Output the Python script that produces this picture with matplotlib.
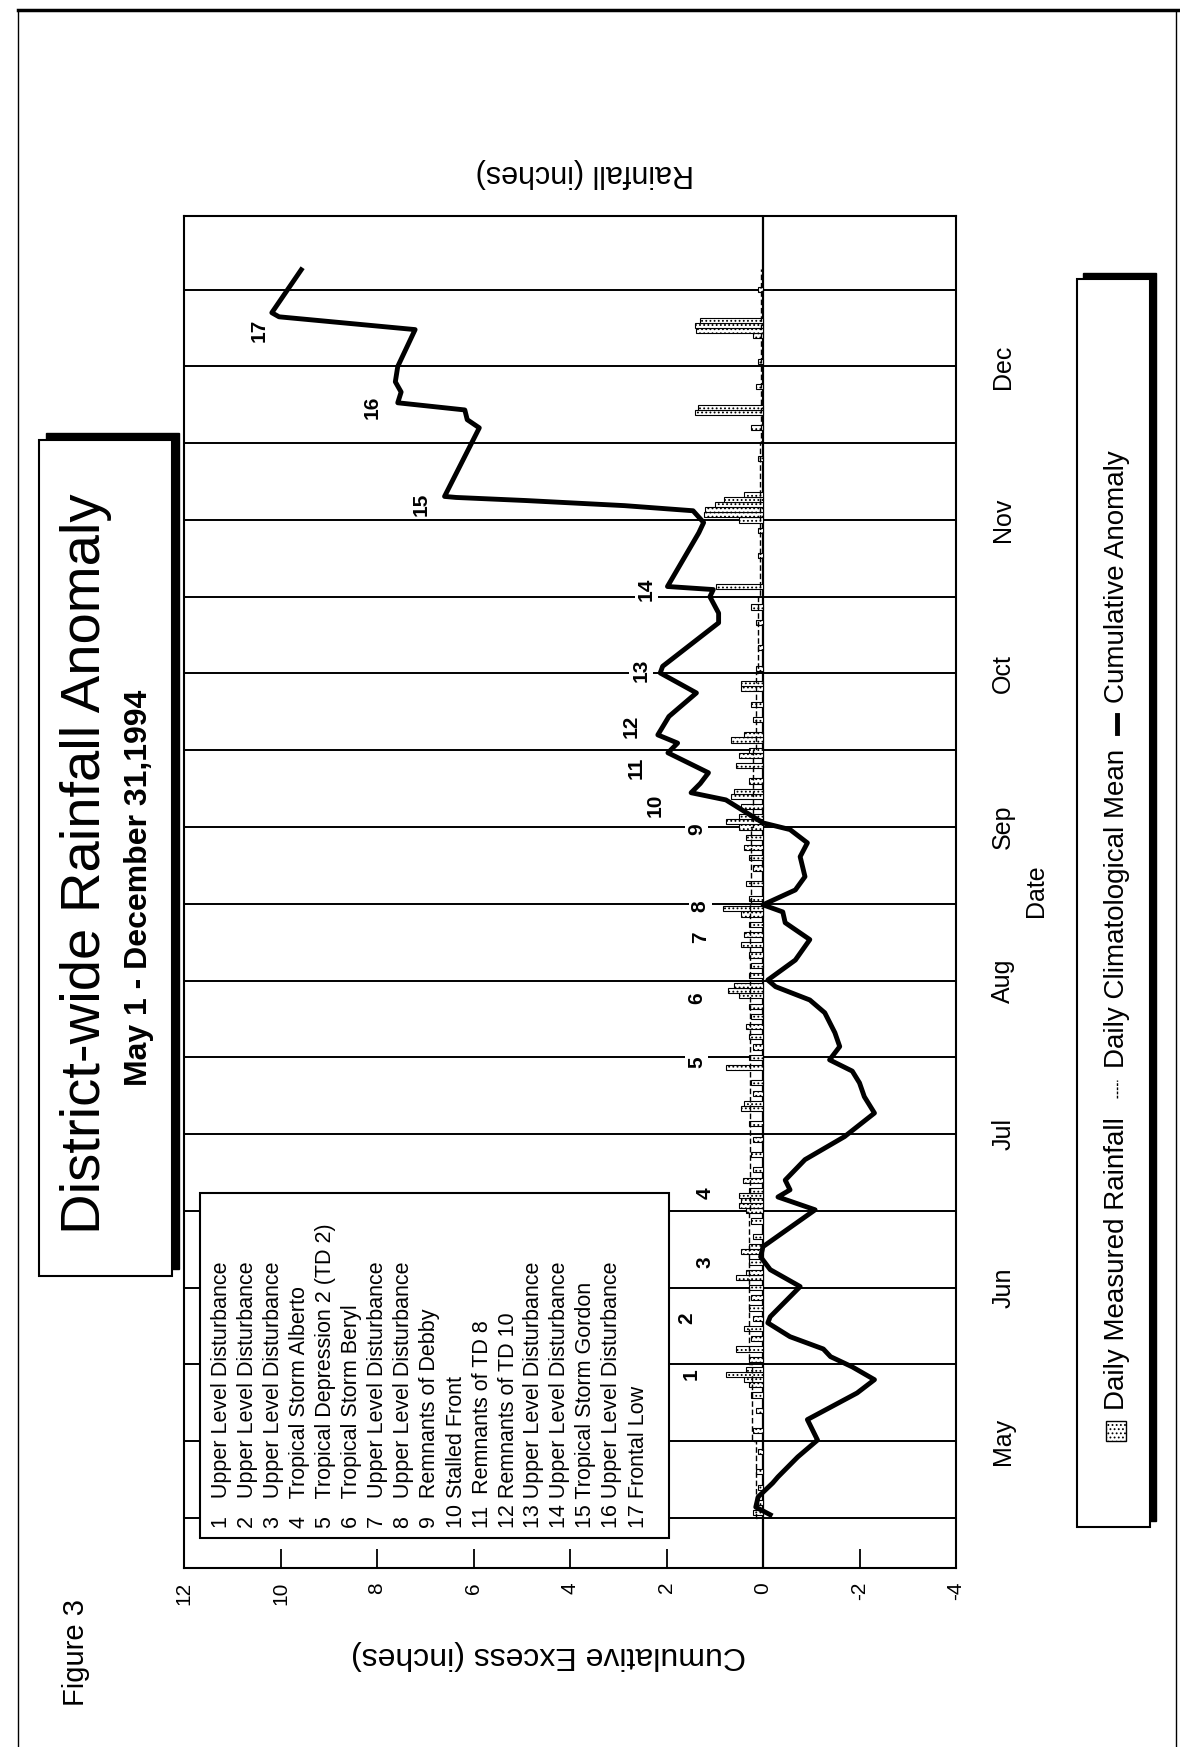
import matplotlib
matplotlib.use("Agg")
import matplotlib.pyplot as plt
from matplotlib.patches import Rectangle
from matplotlib.lines import Line2D

plt.rcParams['font.family'] = ['Liberation Sans', 'DejaVu Sans']
plt.rcParams['hatch.linewidth'] = 0.8

# days counted from May 1, 1994
anom_day = [0.6, 2.1, 4.1, 6.8, 8, 11.9, 15.2, 19.2, 24.4, 27, 29.5, 31.5, 33, 35.4, 38.1, 39.3,
            45.2, 48.5, 51, 53, 60.2, 62.7, 64.1, 66, 70, 74.5, 79.1, 82.3, 85, 87.3,
            89.5, 92.1, 94.8, 98.7, 101.2, 103.8, 105.1, 109, 113, 116.3, 118.4, 119.8,
            122.7, 125.3, 129.2, 131.9, 134.5, 135.8, 140.3, 141.7, 143.5, 145.6, 149.5,
            151.4, 153, 156.6, 161.2, 165.1, 166.4, 174.9, 176.8, 180, 181.4, 182, 192.5,
            194.5, 196.8, 197.8, 198.8, 199.4, 199.6, 213, 214.6, 216.5, 217.9, 220, 222,
            225, 232.2, 234.7, 235.5, 243.9]
anom_val = [-0.15, 0.15, 0.1, -0.2, -0.31, -0.72, -1.13, -0.92, -1.95, -2.31, -1.85, -1.4, -1.25,
            -0.56, -0.1, -0.15, -0.77, -0.15, 0.05, 0.0, -1.08, -0.31, -0.56, -0.46, -0.87,
            -1.69, -2.31, -2.1, -2.0, -1.85, -1.38, -1.59, -1.49, -1.28, -0.97, -0.26, -0.1,
            -0.67, -0.97, -0.46, -0.41, 0.0, -0.67, -0.87, -0.77, -0.92, -0.56, 0.0, 0.77,
            1.49, 1.3, 1.13, 1.97, 1.77, 2.18, 1.95, 1.38, 2.13, 2.08, 0.92, 0.92, 1.1, 1.03,
            1.98, 1.33, 1.23, 1.45, 2.87, 4.92, 6.36, 6.6, 5.88, 6.13, 6.18, 7.57, 7.5, 7.62,
            7.57, 7.21, 10.03, 10.18, 9.57]

rain_day = [1, 3, 6, 9, 13, 17, 21, 24, 26, 27, 28, 29, 31, 33, 35, 37, 39, 41, 43, 45, 47, 48,
            50, 52, 53, 55, 58, 60, 61, 62, 63, 64, 66, 68, 71, 74, 77, 80, 81, 83, 85, 88, 90,
            92, 94, 96, 98, 100, 102, 103, 104, 106, 108, 110, 112, 114, 116, 118, 119, 121,
            124, 127, 129, 131, 133, 135, 136, 137, 139, 141, 142, 144, 147, 149, 150, 152,
            153, 156, 159, 162, 163, 166, 170, 175, 178, 182, 188, 193, 195, 196, 197, 198,
            199, 200, 207, 213, 216, 217, 221, 226, 231, 232, 233, 234, 240]
rain_val = [0.2, 0.1, 0.1, 0.15, 0.1, 0.2, 0.15, 0.25, 0.3, 0.4, 0.77, 0.35, 0.3, 0.56, 0.25,
            0.4, 0.2, 0.3, 0.25, 0.3, 0.56, 0.35, 0.3, 0.46, 0.3, 0.2, 0.25, 0.35, 0.5, 0.45,
            0.5, 0.3, 0.41, 0.2, 0.25, 0.2, 0.3, 0.46, 0.4, 0.2, 0.25, 0.77, 0.3, 0.2, 0.3,
            0.35, 0.25, 0.3, 0.5, 0.72, 0.6, 0.3, 0.25, 0.3, 0.45, 0.4, 0.3, 0.45, 0.82, 0.3,
            0.35, 0.2, 0.3, 0.4, 0.35, 0.5, 0.77, 0.5, 0.45, 0.67, 0.6, 0.3, 0.56, 0.5, 0.3,
            0.66, 0.4, 0.2, 0.25, 0.45, 0.45, 0.15, 0.1, 0.15, 0.25, 0.97, 0.1, 0.1, 0.5,
            1.23, 1.2, 1.0, 0.8, 0.4, 0.1, 0.25, 1.4, 1.35, 0.15, 0.1, 0.2, 1.38, 1.4, 1.3, 0.1]

clim_day = [0, 15, 30, 45, 60, 75, 90, 105, 120, 135, 150, 165, 180, 195, 210, 225, 244]
clim_val = [0.12, 0.15, 0.22, 0.28, 0.28, 0.27, 0.27, 0.26, 0.26, 0.24, 0.2, 0.14, 0.1, 0.07,
            0.06, 0.05, 0.05]

grid_days = [0, 15, 30, 45, 60, 75, 90, 105, 120, 135, 150, 165, 180, 195, 210, 225, 240]
month_days = [15, 45, 75, 105, 135, 165, 195, 225]
months = ['May', 'Jun', 'Jul', 'Aug', 'Sep', 'Oct', 'Nov', 'Dec']
excess_ticks = [12, 10, 8, 6, 4, 2, 0, -2, -4]

storm_names = ['Upper Level Disturbance', 'Upper Level Disturbance', 'Upper Level Disturbance',
               'Tropical Storm Alberto', 'Tropical Depression 2 (TD 2)', 'Tropical Storm Beryl',
               'Upper Level Disturbance', 'Upper Level Disturbance', 'Remnants of Debby',
               'Stalled Front', ' Remnants of TD 8', 'Remnants of TD 10',
               'Upper Level Disturbance', 'Upper Level Disturbance', 'Tropical Storm Gordon',
               'Upper Level Disturbance', 'Frontal Low']
storm_day = [28, 39, 50, 63.5, 89, 101.6, 113.5, 119.6, 134.5, 139.3, 146.6, 154.6, 165.7,
             181.4, 198, 217, 232]
storm_val = [1.5, 1.57, 1.2, 1.2, 1.37, 1.37, 1.3, 1.3, 1.37, 2.24, 2.63, 2.74, 2.53, 2.42,
             7.09, 8.1, 10.45]

W, H = 1180, 1747
fig = plt.figure(figsize=(W / 100, H / 100), dpi=100)


def fx(px):
    return px / W


def fy(py):
    return 1 - py / H


def box(x0, y0, x1, y1, shadow=0, lw=1.5, z=5):
    # rectangle given in pixel corners (top-left, bottom-right), shadow to right/top
    if shadow:
        fig.add_artist(Rectangle((fx(x0 + shadow), fy(y1 - shadow)), fx(x1) - fx(x0),
                                 fy(y0) - fy(y1), transform=fig.transFigure,
                                 fc='black', ec='black', zorder=z))
    fig.add_artist(Rectangle((fx(x0), fy(y1)), fx(x1) - fx(x0), fy(y0) - fy(y1),
                             transform=fig.transFigure, fc='white', ec='black', lw=lw,
                             zorder=z + 0.1))


# page border
fig.add_artist(Line2D([fx(18), fx(1178)], [fy(10), fy(10)], color='black', lw=2.5))
fig.add_artist(Line2D([fx(18), fx(18)], [fy(10), fy(1747)], color='black', lw=1))
fig.add_artist(Line2D([fx(1176), fx(1176)], [fy(10), fy(1747)], color='black', lw=1))

ax = fig.add_axes([fx(184), fy(1568), fx(956) - fx(184), fy(216) - fy(1568)])
ax.set_xlim(12, -4)
ax.set_ylim(-9.8, 254.4)
for s in ax.spines.values():
    s.set_linewidth(1.5)

ax.set_yticks(grid_days)
ax.yaxis.grid(True, color='black', lw=1.4)
ax.tick_params(axis='y', length=0, labelleft=False)
ax.set_xticks(excess_ticks)
ax.set_xticklabels([str(t) for t in excess_ticks], rotation=90, fontsize=15)
ax.tick_params(axis='x', direction='in', length=14, width=1.3, pad=10)
ax.axvline(0, color='black', lw=1.6)

ax.barh(rain_day, rain_val, height=1.0, left=0, color='white', edgecolor='black',
        hatch='....', lw=0.8, zorder=3)
ax.plot(clim_val, clim_day, color='black', lw=1, ls=(0, (4, 2)), drawstyle='steps-post',
        zorder=3)
ax.plot(anom_val, anom_day, color='black', lw=3.5, solid_joinstyle='round', zorder=4)

for i, (d, v) in enumerate(zip(storm_day, storm_val)):
    ax.text(v, d, str(i + 1), rotation=90, ha='center', va='center', fontsize=15,
            fontweight='bold', zorder=5,
            bbox=dict(fc='white', ec='none', pad=1.5))

ytr = ax.get_yaxis_transform()
for d, m in zip(month_days, months):
    ax.text(1.061, d, m, transform=ytr, rotation=90, ha='center', va='center',
            fontsize=18, clip_on=False)

fig.text(fx(1036), fy(891), 'Date', rotation=90, ha='center', va='center', fontsize=18)
fig.text(fx(548), fy(1655), 'Cumulative Excess (inches)', rotation=180, ha='center',
         va='center', fontsize=23)
fig.text(fx(585), fy(173), 'Rainfall (inches)', rotation=180, ha='center', va='center',
         fontsize=22)
fig.text(fx(76), fy(1652), 'Figure 3', rotation=90, ha='center', va='center', fontsize=21)

# storm legend
box(200, 1193, 669, 1538, lw=1.5, z=6)
for i, name in enumerate(storm_names):
    num = str(i + 1)
    lab = (num + '   ' if len(num) == 1 else num + ' ') + name
    fig.text(fx(222 + 26 * i), fy(1528), lab, rotation=90, ha='center', va='bottom',
             fontsize=15.5, zorder=7)

# title box
box(39, 440, 172, 1276, shadow=7, lw=1.5, z=6)
fig.text(fx(86), fy(864), 'District-wide Rainfall Anomaly', rotation=90, ha='center',
         va='center', fontsize=40.5, zorder=7)
fig.text(fx(139), fy(888), 'May 1 - December 31,1994', rotation=90, ha='center',
         va='center', fontsize=23, fontweight='bold', zorder=7)

# series legend
box(1077, 279, 1150, 1527, shadow=6, lw=1.5, z=6)
fig.add_artist(Rectangle((fx(1106), fy(1441)), fx(20), 20 / H, transform=fig.transFigure,
                         fc='white', ec='black', hatch='....', lw=1, zorder=7))
fig.text(fx(1117), fy(1410), 'Daily Measured Rainfall', rotation=90, ha='center',
         va='bottom', fontsize=20, zorder=7)
fig.add_artist(Line2D([fx(1117), fx(1117)], [fy(1098), fy(1080)], color='black', lw=1,
                      ls=(0, (2, 1)), zorder=7))
fig.text(fx(1117), fy(1068), 'Daily Climatological Mean', rotation=90, ha='center',
         va='bottom', fontsize=20, zorder=7)
fig.add_artist(Line2D([fx(1117), fx(1117)], [fy(733), fy(715)], color='black', lw=3.5,
                      zorder=7))
fig.text(fx(1117), fy(703), 'Cumulative Anomaly', rotation=90, ha='center',
         va='bottom', fontsize=20, zorder=7)

fig.savefig('out.png', dpi=100)
